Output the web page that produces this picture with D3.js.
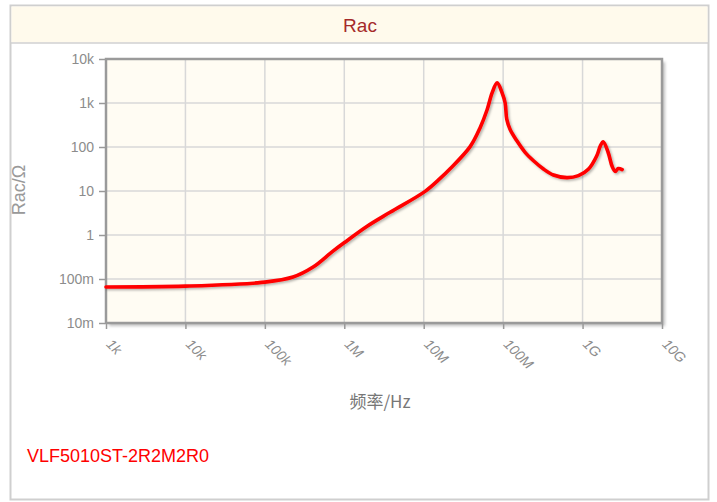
<!DOCTYPE html>
<html>
<head>
<meta charset="utf-8">
<script src="https://cdn.jsdelivr.net/npm/d3@7"></script>
<style>
  body { margin: 0; background: #fff; }
  svg { display: block; }
</style>
</head>
<body>
<svg id="chart" width="717" height="502"></svg>
<script>
// Rac vs frequency
const freqHz = [1e3, 1e4, 1e5, 2.26e5, 4.05e5, 7.2e5, 1.02e6, 1.94e6, 3.77e6, 1.04e7, 1.61e7,
  2.15e7, 3.84e7, 5.13e7, 6.28e7, 7.26e7, 8.4e7, 9.7e7, 1.06e8, 1.11e8, 1.22e8, 1.49e8, 1.89e8,
  2.41e8, 3.22e8, 4.3e8, 6.34e8, 8.87e8, 1.19e9, 1.51e9, 1.67e9, 1.82e9, 2.1e9, 2.36e9, 2.58e9,
  2.81e9, 3.15e9];
const racOhm = [0.066, 0.069, 0.085, 0.111, 0.187, 0.43, 0.687, 1.58, 3.28, 9.8, 19.3,
  32, 102, 275, 701, 1700, 2865, 1700, 1000, 428, 254, 138, 75.5,
  48.7, 31.6, 23.1, 20.1, 22.3, 31.6, 63.2, 105, 131, 75, 36, 27.7,
  32.5, 30.8];

const xTicks = [1e3, 1e4, 1e5, 1e6, 1e7, 1e8, 1e9, 1e10];
const xTickLabels = ["1k", "10k", "100k", "1M", "10M", "100M", "1G", "10G"];
const yTicks = [1e-2, 1e-1, 1, 10, 100, 1e3, 1e4];
const yTickLabels = ["10m", "100m", "1", "10", "100", "1k", "10k"];

const title = "Rac";
const partName = "VLF5010ST-2R2M2R0";

const svg = d3.select("#chart");
const plot = { left: 106, top: 59, right: 662, bottom: 323 };
const narrow = "'Liberation Sans Narrow', 'Arial Narrow', 'Liberation Sans', Arial, sans-serif";

const defs = svg.append("defs");
defs.append("filter").attr("id", "boxShadow")
  .attr("x", "-5%").attr("y", "-5%").attr("width", "115%").attr("height", "115%")
  .append("feDropShadow")
  .attr("dx", 3).attr("dy", 3).attr("stdDeviation", 1.5)
  .attr("flood-color", "#000").attr("flood-opacity", 0.25);
defs.append("filter").attr("id", "lineShadow")
  .attr("x", "-5%").attr("y", "-5%").attr("width", "115%").attr("height", "115%")
  .append("feDropShadow")
  .attr("dx", 1.5).attr("dy", 1.5).attr("stdDeviation", 1)
  .attr("flood-color", "#000").attr("flood-opacity", 0.3);

// outer panel + header
svg.append("rect")
  .attr("x", 10.5).attr("y", 5.5).attr("width", 698).attr("height", 494)
  .attr("fill", "#fff").attr("stroke", "#cfcfcf").attr("stroke-width", 2);
svg.append("rect")
  .attr("x", 11.5).attr("y", 6.5).attr("width", 696).attr("height", 36)
  .attr("fill", "#fffaec");
svg.append("line")
  .attr("x1", 11).attr("x2", 708).attr("y1", 43).attr("y2", 43)
  .attr("stroke", "#d0d0d0").attr("stroke-width", 1.5);
svg.append("text")
  .attr("x", 360).attr("y", 32)
  .attr("text-anchor", "middle")
  .style("font-family", narrow).style("font-size", "19px")
  .attr("fill", "#a52a2a")
  .text(title);

const x = d3.scaleLog().domain([1e3, 1e10]).range([plot.left, plot.right]);
const y = d3.scaleLog().domain([1e-2, 1e4]).range([plot.bottom, plot.top]);

// plot background with shadow
svg.append("rect")
  .attr("x", plot.left).attr("y", plot.top)
  .attr("width", plot.right - plot.left).attr("height", plot.bottom - plot.top)
  .attr("fill", "#fffcf3")
  .attr("filter", "url(#boxShadow)");

// grid
const grid = svg.append("g");
grid.selectAll("line.v").data(xTicks.slice(1, -1)).join("line")
  .attr("class", "v")
  .attr("x1", d => x(d)).attr("x2", d => x(d))
  .attr("y1", plot.top).attr("y2", plot.bottom)
  .attr("stroke", "#d8d8d8").attr("stroke-width", 1.5);
grid.selectAll("line.h").data(yTicks.slice(1, -1)).join("line")
  .attr("class", "h")
  .attr("x1", plot.left).attr("x2", plot.right)
  .attr("y1", d => y(d)).attr("y2", d => y(d))
  .attr("stroke", "#d8d8d8").attr("stroke-width", 1.5);

// axes
const yAxis = svg.append("g")
  .attr("transform", `translate(${plot.left - 1},0)`)
  .call(d3.axisLeft(y).tickValues(yTicks).tickFormat((d, i) => yTickLabels[i]).tickSize(6).tickPadding(5));
yAxis.select(".domain").remove();
yAxis.selectAll(".tick line").attr("stroke", "#999").attr("stroke-width", 1.5);
yAxis.selectAll(".tick text")
  .attr("fill", "#8c8c8c")
  .style("font-family", narrow).style("font-size", "14px");

const xAxis = svg.append("g")
  .attr("transform", `translate(0,${plot.bottom + 1})`)
  .call(d3.axisBottom(x).tickValues(xTicks).tickFormat((d, i) => xTickLabels[i]).tickSize(5));
xAxis.select(".domain").remove();
xAxis.selectAll(".tick line").attr("stroke", "#999").attr("stroke-width", 1.5);
xAxis.selectAll(".tick text")
  .attr("fill", "#8c8c8c")
  .attr("text-anchor", "start")
  .attr("x", 0).attr("y", 0).attr("dy", 0)
  .attr("transform", "translate(-1,21) rotate(45)")
  .style("font-family", narrow).style("font-size", "14px").style("font-style", "italic");

// frame
svg.append("rect")
  .attr("x", plot.left).attr("y", plot.top)
  .attr("width", plot.right - plot.left).attr("height", plot.bottom - plot.top)
  .attr("fill", "none").attr("stroke", "#9a9a9a").attr("stroke-width", 2.5);

// curve
const line = d3.line()
  .x((d, i) => x(freqHz[i]))
  .y(d => y(d))
  .curve(d3.curveCatmullRom.alpha(0.5));
svg.append("path")
  .datum(racOhm)
  .attr("d", line)
  .attr("fill", "none")
  .attr("stroke", "#ff0000")
  .attr("stroke-width", 3.6)
  .attr("stroke-linejoin", "round")
  .attr("stroke-linecap", "round")
  .attr("filter", "url(#lineShadow)");

// axis titles
svg.append("text")
  .attr("transform", "translate(25,190) rotate(-90)")
  .attr("text-anchor", "middle")
  .attr("fill", "#999")
  .style("font-family", "'Liberation Sans', Arial, sans-serif").style("font-size", "18px")
  .text("Rac/Ω");
svg.append("text")
  .attr("x", 380).attr("y", 408)
  .attr("text-anchor", "middle")
  .attr("fill", "#777")
  .style("font-family", "'Noto Sans CJK SC', 'Liberation Sans', sans-serif").style("font-size", "17px")
  .text("频率/Hz");

svg.append("text")
  .attr("x", 27).attr("y", 462)
  .attr("fill", "#ff0000")
  .style("font-family", narrow).style("font-size", "18px")
  .text(partName);
</script>
</body>
</html>
